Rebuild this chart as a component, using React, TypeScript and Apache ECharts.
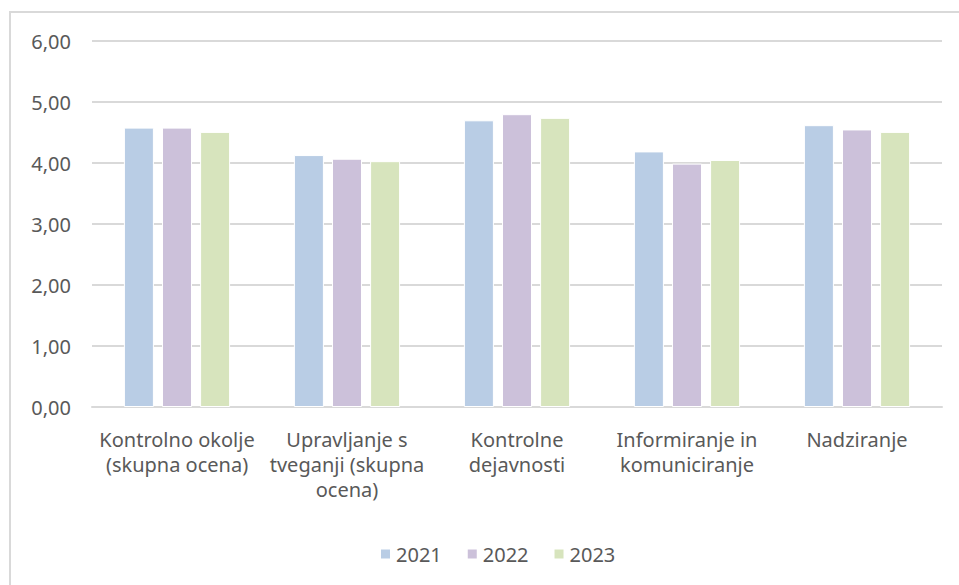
import React, { useEffect, useRef } from "react";
import * as echarts from "echarts";

const categories = [
  "Kontrolno okolje\n(skupna ocena)",
  "Upravljanje s\ntveganji (skupna\nocena)",
  "Kontrolne\ndejavnosti",
  "Informiranje in\nkomuniciranje",
  "Nadziranje",
];
const years = ["2021", "2022", "2023"];
const values2021 = [4.58, 4.13, 4.7, 4.19, 4.62];
const values2022 = [4.58, 4.07, 4.8, 3.99, 4.55];
const values2023 = [4.51, 4.03, 4.74, 4.05, 4.51];
const colors = ["#B9CDE5", "#CCC1DA", "#D7E4BD"];

export default function App() {
  const ref = useRef<HTMLDivElement>(null);
  useEffect(() => {
    if (!ref.current) return;
    const chart = echarts.init(ref.current, null, { renderer: "svg" });
    const font = "'Noto Sans', sans-serif";
    const series = [values2021, values2022, values2023].map((d, i) => ({
      name: years[i],
      type: "bar",
      data: d,
      barWidth: 30,
      barGap: "27%",
      itemStyle: { color: colors[i], borderColor: "#ffffff", borderWidth: 1 },
    }));
    chart.setOption({
      animation: false,
      graphic: [
        {
          type: "rect",
          shape: { x: 10, y: 12, width: 1000, height: 700 },
          style: { fill: "none", stroke: "#D9D9D9", lineWidth: 2 },
          silent: true,
          z: -1,
        },
      ],
      grid: { left: 92, right: 17, top: 41, bottom: 178, containLabel: false },
      xAxis: {
        type: "category",
        data: categories,
        axisLine: { show: true, lineStyle: { color: "#D9D9D9", width: 2 } },
        axisTick: { show: false },
        axisLabel: {
          interval: 0,
          color: "#595959",
          fontFamily: font,
          fontSize: 20,
          lineHeight: 25,
          margin: 20,
        },
      },
      yAxis: {
        type: "value",
        min: 0,
        max: 6,
        interval: 1,
        axisLine: { show: false },
        axisTick: { show: false },
        splitLine: { lineStyle: { color: "#D9D9D9", width: 2 } },
        axisLabel: {
          color: "#595959",
          fontFamily: font,
          fontSize: 20,
          margin: 21,
          formatter: (v: number) => v.toFixed(2).replace(".", ","),
        },
      },
      legend: {
        data: years,
        top: 539,
        left: 374,
        itemWidth: 11,
        itemHeight: 11,
        itemGap: 24,
        icon: "rect",
        textStyle: { color: "#595959", fontFamily: font, fontSize: 20 },
      },
      series,
    });
    return () => chart.dispose();
  }, []);
  return (
    <div
      ref={ref}
      style={{ position: "absolute", left: 0, top: 0, width: 959, height: 585, background: "#fff" }}
    />
  );
}
